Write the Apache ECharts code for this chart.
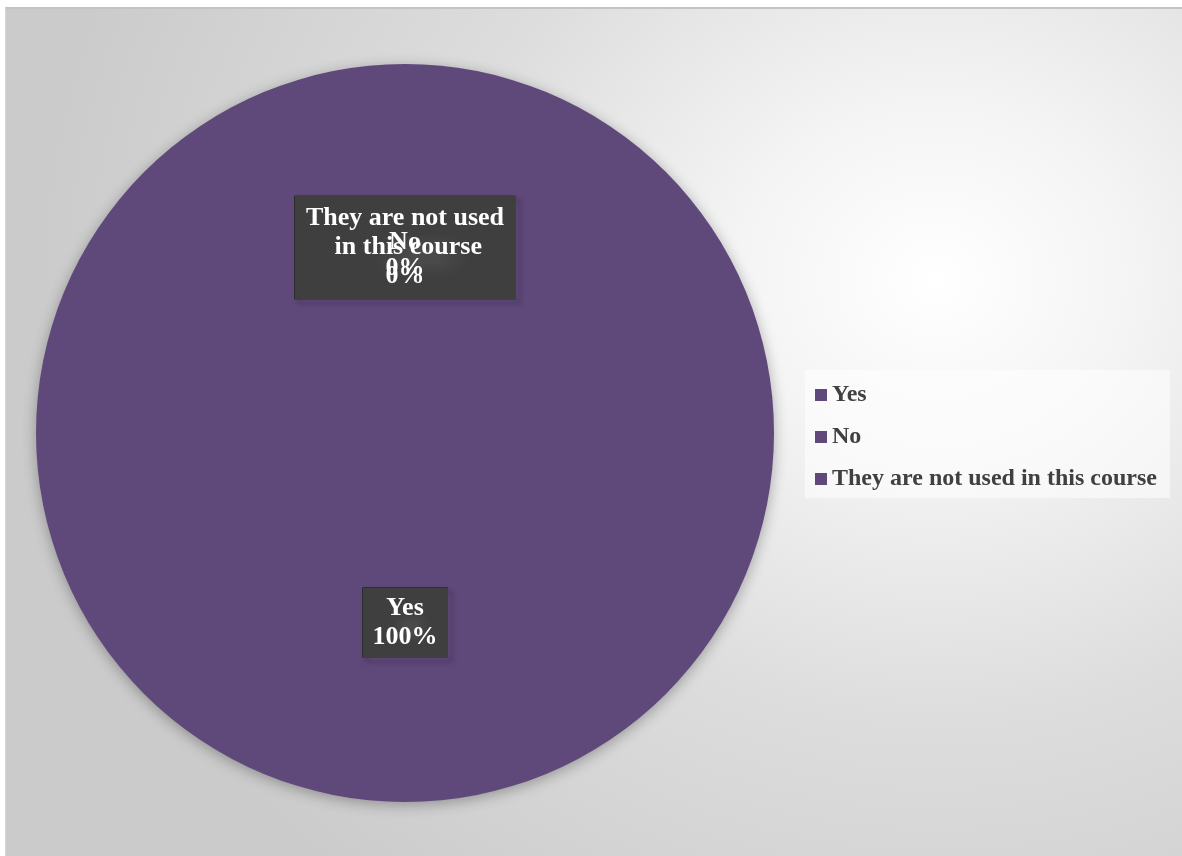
<!DOCTYPE html>
<html>
<head>
<meta charset="utf-8">
<script src="https://cdn.jsdelivr.net/npm/echarts@6/dist/echarts.min.js"></script>
<style>
  html, body { margin: 0; padding: 0; background: #ffffff; }
  #frame {
    position: absolute; left: 5px; top: 7px; width: 1177px; height: 849px;
    border-top: 2px solid #c4c4c4; border-left: 1px solid #d6d6d6; box-sizing: border-box;
    background: radial-gradient(ellipse 900px 800px at 930px 270px, #ffffff 0%, #f4f4f4 22%, #dddddd 55%, #cbcbcb 100%);
  }
  #chart { position: absolute; left: 0; top: 0; width: 1182px; height: 856px; }
</style>
</head>
<body>
<div id="frame"></div>
<div id="chart"></div>
<script>
// Data
const categories = ['Yes', 'No', 'They are not used in this course'];
const values = [100, 0, 0];

const purple = '#5F497A';
const fontFamily = '"Liberation Serif", "Times New Roman", serif';

// dotted dark pattern for the label boxes
const pat = document.createElement('canvas');
pat.width = 7; pat.height = 7;
const pctx = pat.getContext('2d');
pctx.fillStyle = '#3f3f3f';
pctx.fillRect(0, 0, 7, 7);
pctx.fillStyle = '#4a4a4a';
pctx.fillRect(3, 3, 2, 2);

const baseLabel = {
  show: true,
  position: 'inside',
  formatter: '{b}\n{d}%',
  color: '#ffffff',
  fontFamily: fontFamily,
  fontWeight: 'bold',
  fontSize: 26,
  lineHeight: 29,
  align: 'center',
  offset: [0, 2],
  backgroundColor: { image: pat, repeat: 'repeat' },
  borderColor: '#2e2e2e',
  borderWidth: 1,
  padding: [8, 10, 4, 10],
  shadowColor: 'rgba(0,0,0,0.55)',
  shadowBlur: 5,
  shadowOffsetX: 4,
  shadowOffsetY: 4
};

// draw order: Yes, They..., No (so the "No" text lies on top of the other box)
const drawOrder = [0, 2, 1];
const pieData = drawOrder.map(function (i) {
  const item = { name: categories[i], value: values[i], itemStyle: { color: purple } };
  if (i === 2) {
    item.label = { width: 201, overflow: 'break', padding: [12, 10, 4, 10] };
  }
  if (i === 1) {
    item.label = { backgroundColor: 'transparent', borderWidth: 0, shadowBlur: 0, shadowOffsetX: 0, shadowOffsetY: 0, padding: 0, lineHeight: 26, offset: [0, 10] };
  }
  return item;
});

const chart = echarts.init(document.getElementById('chart'), null, { renderer: 'canvas' });
chart.setOption({
  backgroundColor: 'transparent',
  animation: false,
  legend: {
    data: categories,
    orient: 'vertical',
    left: 805,
    top: 370,
    backgroundColor: 'rgba(255,255,255,0.55)',
    padding: [12, 13, 6, 10],
    itemWidth: 12,
    itemHeight: 12,
    itemGap: 16,
    itemStyle: { color: purple },
    icon: 'rect',
    selectedMode: false,
    textStyle: {
      fontFamily: fontFamily,
      fontWeight: 'bold',
      fontSize: 24,
      lineHeight: 26,
      color: '#404040'
    },
    itemTextGap: 11
  },
  series: [{
    type: 'pie',
    center: [405, 433],
    radius: [0, 369],
    startAngle: 90,
    clockwise: true,
    avoidLabelOverlap: false,
    labelLayout: { hideOverlap: false },
    label: baseLabel,
    labelLine: { show: false },
    itemStyle: {
      shadowColor: 'rgba(0,0,0,0.3)',
      shadowBlur: 14,
      shadowOffsetY: 3
    },
    emphasis: { disabled: true },
    data: pieData
  }]
});
</script>
</body>
</html>
